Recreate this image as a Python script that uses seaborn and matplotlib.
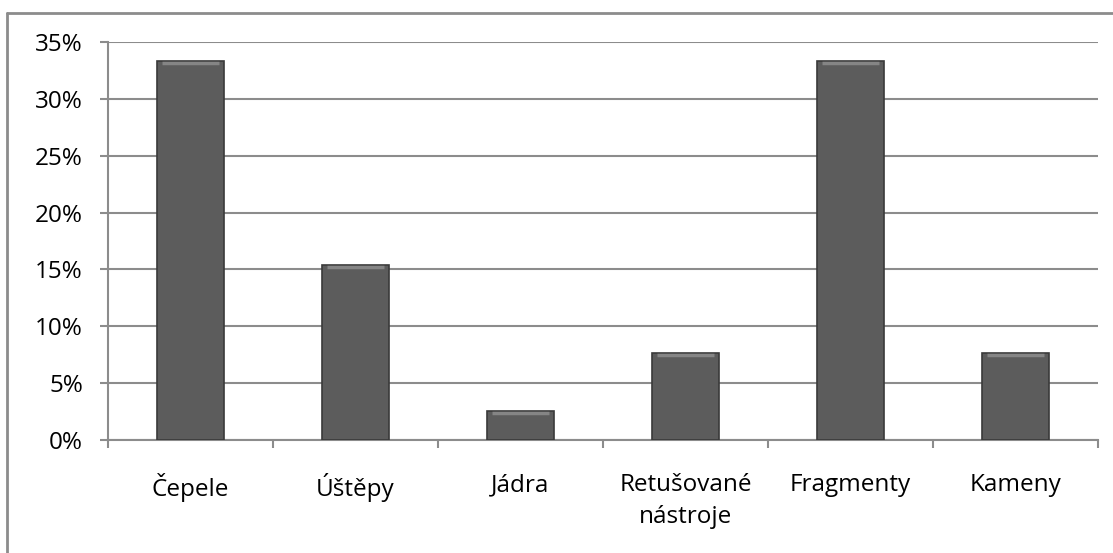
import matplotlib
matplotlib.use('agg')
import matplotlib.pyplot as plt
import seaborn as sns
import pandas as pd
from matplotlib.ticker import FuncFormatter, FixedLocator
from matplotlib.lines import Line2D

# data
categories = ['Čepele', 'Úštěpy', 'Jádra', 'Retušované\nnástroje', 'Fragmenty', 'Kameny']
counts = [13, 6, 1, 3, 13, 3]
shares = [c / sum(counts) for c in counts]
yticks = [0, 0.05, 0.10, 0.15, 0.20, 0.25, 0.30, 0.35]

df = pd.DataFrame({'kategorie': categories, 'podil': shares})

sns.set_theme(style='white')
plt.rcParams['font.family'] = ['Open Sans', 'DejaVu Sans']

fig = plt.figure(figsize=(11.13, 5.53), dpi=100)
ax = fig.add_axes([108 / 1113, 1 - 440 / 553, (1098 - 108) / 1113, (440 - 42) / 553])

sns.barplot(data=df, x='kategorie', y='podil', color='#5c5c5c', width=0.41,
            edgecolor='#3a3a3a', linewidth=1.2, saturation=1, ax=ax, zorder=3)

# light top edge on each bar (bevel look)
for p in ax.patches:
    x0, w, h = p.get_x(), p.get_width(), p.get_height()
    ax.plot([x0 + w * 0.08, x0 + w * 0.92], [h - 0.0018, h - 0.0018],
            color='#858585', lw=2.5, zorder=4, solid_capstyle='butt')

ax.set_ylim(0, 0.35)
ax.set_xlim(-0.5, len(categories) - 0.5)
ax.yaxis.set_major_locator(FixedLocator(yticks))
ax.yaxis.set_major_formatter(FuncFormatter(lambda v, _: f'{v * 100:.0f}%'))
ax.grid(axis='y', color='#8c8c8c', lw=1.5, zorder=0)
ax.set_xlabel('')
ax.set_ylabel('')

for s in ['top', 'right']:
    ax.spines[s].set_visible(False)
for s in ['left', 'bottom']:
    ax.spines[s].set_color('#8c8c8c')
    ax.spines[s].set_linewidth(1.5)

# category boundary ticks on x axis
ax.set_xticks(range(len(categories)))
ax.set_xticklabels(categories, fontsize=17.5, linespacing=1.45, color='black')
ax.tick_params(axis='x', length=0, pad=24)
ax.set_xticks([i - 0.5 for i in range(len(categories) + 1)], minor=True)
ax.tick_params(axis='x', which='minor', length=6, width=1.5, color='#8c8c8c', direction='out')
ax.tick_params(axis='y', length=6, width=1.5, color='#8c8c8c', direction='out',
               labelsize=17.5, labelcolor='black', pad=12)
ax.tick_params(axis='both', which='both', bottom=True, left=True)

# outer frame
fig.add_artist(Line2D([7 / 1113, 7 / 1113], [0, 1 - 13 / 553], transform=fig.transFigure,
                      color='#8c8c8c', lw=2))
fig.add_artist(Line2D([7 / 1113, 1], [1 - 13 / 553, 1 - 13 / 553], transform=fig.transFigure,
                      color='#8c8c8c', lw=2))

fig.savefig('out.png', dpi=100)
